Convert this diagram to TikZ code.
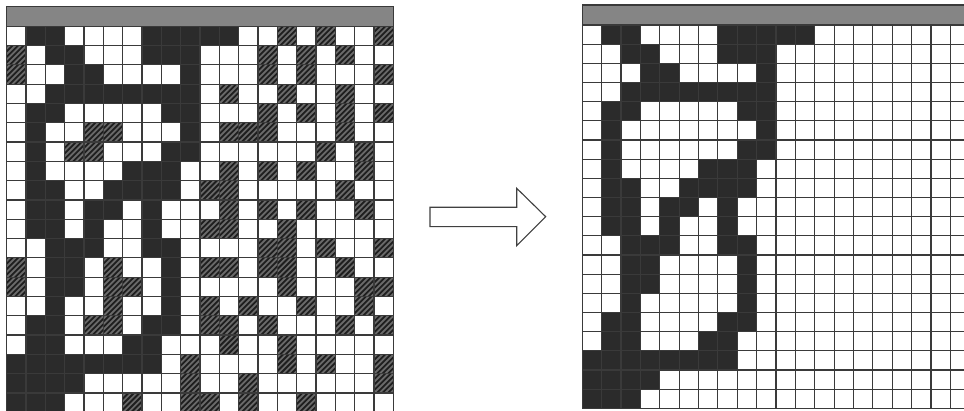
\documentclass[tikz,border=0pt]{standalone}
\definecolor{cellblack}{HTML}{2B2B2B}
\definecolor{hatchbg}{HTML}{6A6A6A}
\definecolor{hatchln}{HTML}{1E1E1E}
\definecolor{gridln}{HTML}{3A3A3A}
\definecolor{barfill}{HTML}{858585}
\tikzset{
  blackcell/.style={fill=cellblack},
  hatchcell/.style={fill=hatchbg},
  hatchline/.style={draw=hatchln, line width=1.8pt},
  gridline/.style={draw=gridln, line width=1.2pt},
  topbar/.style={fill=barfill, draw=gridln, line width=1.2pt},
  bigarrow/.style={draw=black!75, line width=1.1pt, fill=white, line join=miter}
}
\begin{document}
\begin{tikzpicture}[x=1pt,y=-1pt]
\clip (0,0) rectangle (964,411);
\fill[white] (0,0) rectangle (964,411);
\def\griddata{%
{0,1,1,0,0,0,0,1,1,1,1,1,0,0,2,0,2,0,0,2},%
{2,0,1,1,0,0,0,1,1,1,0,0,0,2,0,2,0,2,0,0},%
{2,0,0,1,1,0,0,0,0,1,0,0,0,2,0,2,0,0,0,2},%
{0,0,1,1,1,1,1,1,1,1,0,2,0,0,2,0,0,2,0,0},%
{0,1,1,0,0,0,0,0,1,1,0,0,0,2,0,2,0,2,0,2},%
{0,1,0,0,2,2,0,0,0,1,0,2,2,2,0,0,0,2,0,0},%
{0,1,0,2,2,0,0,0,1,1,0,0,0,0,0,0,2,0,2,0},%
{0,1,0,0,0,0,1,1,1,0,0,2,0,2,0,2,0,0,2,0},%
{0,1,1,0,0,1,1,1,1,0,2,2,0,0,0,0,0,2,0,0},%
{0,1,1,0,1,1,0,1,0,0,0,2,0,2,0,2,0,0,2,0},%
{0,1,1,0,1,0,0,1,0,0,2,2,0,0,2,0,0,0,0,0},%
{0,0,1,1,1,0,0,1,1,0,0,0,0,2,2,0,2,0,0,2},%
{2,0,1,1,0,2,0,0,1,0,2,2,0,2,2,0,0,2,0,0},%
{2,0,1,1,0,2,2,0,1,0,0,0,0,0,2,0,0,0,2,2},%
{0,0,1,0,0,2,0,0,1,0,2,0,2,0,0,2,0,0,2,0},%
{0,1,1,0,2,2,0,1,1,0,2,2,0,2,0,0,0,2,0,2},%
{0,1,1,0,0,0,1,1,0,0,0,2,0,0,2,0,0,0,0,0},%
{1,1,1,1,1,1,1,1,0,2,0,0,0,0,2,0,2,0,0,2},%
{1,1,1,1,0,0,0,0,0,2,0,0,2,0,0,0,0,0,0,2},%
{1,1,1,0,0,0,2,0,0,2,2,0,2,0,0,2,0,0,0,0}}
% ---------- left grid ----------
\def\lx{6.7}\def\ly{26.3}\def\lw{19.33}\def\lh{19.3}
\foreach \rowdata [count=\r from 0] in \griddata {
  \foreach \v [count=\c from 0] in \rowdata {
    \ifnum\v=1
      \fill[blackcell] ({\lx+\c*\lw},{\ly+\r*\lh}) rectangle ++(\lw,\lh);
    \fi
    \ifnum\v=2
      \fill[hatchcell] ({\lx+\c*\lw},{\ly+\r*\lh}) rectangle ++(\lw,\lh);
      \begin{scope}
        \clip ({\lx+\c*\lw},{\ly+\r*\lh}) rectangle ++(\lw,\lh);
        \foreach \k in {0,...,7}
          \draw[hatchline] ({\lx+\c*\lw-20+\k*5.5},{\ly+(\r+1)*\lh+1}) -- ++(23,-23);
      \end{scope}
    \fi
  }
}
\foreach \i in {0,...,20} {
  \draw[gridline] ({\lx+\i*\lw},\ly) -- ({\lx+\i*\lw},{\ly+20*\lh});
  \draw[gridline] (\lx,{\ly+\i*\lh}) -- ({\lx+20*\lw},{\ly+\i*\lh});
}
\draw[topbar] (\lx,6.8) rectangle ({\lx+20*\lw},\ly);
% ---------- right grid ----------
\def\rx{582.3}\def\ry{25}\def\rw{19.37}\def\rh{19.17}
\foreach \rowdata [count=\r from 0] in \griddata {
  \foreach \v [count=\c from 0] in \rowdata {
    \ifnum\v=1
      \fill[blackcell] ({\rx+\c*\rw},{\ry+\r*\rh}) rectangle ++(\rw,\rh);
    \fi
  }
}
\foreach \i in {0,...,20} {
  \draw[gridline] ({\rx+\i*\rw},\ry) -- ({\rx+\i*\rw},{\ry+20*\rh});
  \draw[gridline] (\rx,{\ry+\i*\rh}) -- ({\rx+20*\rw},{\ry+\i*\rh});
}
\draw[topbar] (\rx,5) rectangle ({\rx+20*\rw},\ry);
% ---------- arrow ----------
\draw[bigarrow] (430,207.3) -- (516.7,207.3) -- (516.7,188.3) -- (545.7,216.7)
  -- (516.7,245.7) -- (516.7,226.7) -- (430,226.7) -- cycle;
\end{tikzpicture}
\end{document}
